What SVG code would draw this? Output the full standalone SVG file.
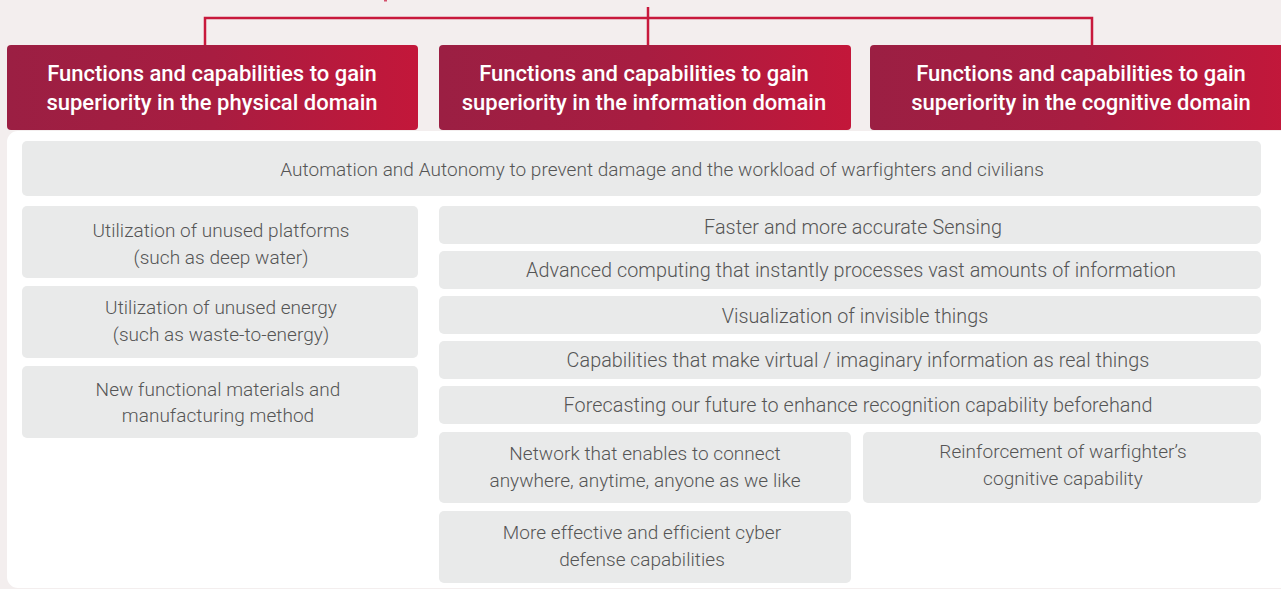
<svg xmlns="http://www.w3.org/2000/svg" width="1281" height="589" viewBox="0 0 1281 589">
<defs>
<linearGradient id="hg" x1="0" y1="0" x2="1" y2="0">
<stop offset="0" stop-color="#9b1f43"/>
<stop offset="0.5" stop-color="#a81d41"/>
<stop offset="1" stop-color="#c3173a"/>
</linearGradient>
<style>
.hdr{fill:url(#hg)}
.ht{font-family:Roboto,"Liberation Sans",sans-serif;font-weight:500;font-size:22px;fill:#ffffff;text-anchor:middle}
.box{fill:#e9eaea}
.bt{font-family:Roboto,"Liberation Sans",sans-serif;font-weight:300;font-size:19px;letter-spacing:0.05px;fill:#555555;text-anchor:middle}
.bt2{font-size:19.8px}
.con{stroke:#c8193c;stroke-width:2.5;fill:none}
</style>
</defs>
<rect x="0" y="0" width="1281" height="589" fill="#f3eeee"/>
<rect x="384" y="0" width="3" height="1.5" fill="#d4506c"/>
<g id="connectors">
<path class="con" d="M648 7 V45"/>
<path class="con" d="M205 45 V18 H1092 V45"/>
</g>
<rect x="7" y="131" width="1290" height="457" rx="11" fill="#ffffff"/>
<g id="h1"><rect class="hdr" x="7" y="45" width="411" height="85" rx="4"/>
<text class="ht" x="212" y="81">Functions and capabilities to gain</text>
<text class="ht" x="212" y="110">superiority in the physical domain</text></g>
<g id="h2"><rect class="hdr" x="439" y="45" width="412" height="85" rx="4"/>
<text class="ht" x="644" y="81">Functions and capabilities to gain</text>
<text class="ht" x="644" y="110">superiority in the information domain</text></g>
<g id="h3"><rect class="hdr" x="870" y="45" width="422" height="85" rx="4"/>
<text class="ht" x="1081" y="81">Functions and capabilities to gain</text>
<text class="ht" x="1081" y="110">superiority in the cognitive domain</text></g>
<g id="automation"><rect class="box" x="22" y="141" width="1239" height="55" rx="5"/>
<text class="bt" x="662" y="176">Automation and Autonomy to prevent damage and the workload of warfighters and civilians</text></g>
<g id="platforms"><rect class="box" x="22" y="206" width="396" height="72" rx="5"/>
<text class="bt" x="221" y="237">Utilization of unused platforms</text>
<text class="bt" x="221" y="264">(such as deep water)</text></g>
<g id="energy"><rect class="box" x="22" y="286" width="396" height="72" rx="5"/>
<text class="bt" x="221" y="314">Utilization of unused energy</text>
<text class="bt" x="221" y="341">(such as waste-to-energy)</text></g>
<g id="materials"><rect class="box" x="22" y="366" width="396" height="72" rx="5"/>
<text class="bt" x="218" y="396">New functional materials and</text>
<text class="bt" x="218" y="422">manufacturing method</text></g>
<g id="sensing"><rect class="box" x="439" y="206" width="822" height="38" rx="5"/>
<text class="bt bt2" x="853" y="234">Faster and more accurate Sensing</text></g>
<g id="computing"><rect class="box" x="439" y="251" width="822" height="38" rx="5"/>
<text class="bt bt2" x="851" y="277">Advanced computing that instantly processes vast amounts of information</text></g>
<g id="visualization"><rect class="box" x="439" y="296" width="822" height="38" rx="5"/>
<text class="bt bt2" x="855" y="323">Visualization of invisible things</text></g>
<g id="virtual"><rect class="box" x="439" y="341" width="822" height="38" rx="5"/>
<text class="bt bt2" x="858" y="367">Capabilities that make virtual / imaginary information as real things</text></g>
<g id="forecasting"><rect class="box" x="439" y="386" width="822" height="38" rx="5"/>
<text class="bt bt2" x="858" y="412">Forecasting our future to enhance recognition capability beforehand</text></g>
<g id="network"><rect class="box" x="439" y="432" width="412" height="71" rx="5"/>
<text class="bt" x="645" y="460">Network that enables to connect</text>
<text class="bt" x="645" y="487">anywhere, anytime, anyone as we like</text></g>
<g id="reinforcement"><rect class="box" x="863" y="432" width="398" height="71" rx="5"/>
<text class="bt" x="1063" y="458">Reinforcement of warfighter’s</text>
<text class="bt" x="1063" y="485">cognitive capability</text></g>
<g id="cyber"><rect class="box" x="439" y="511" width="412" height="72" rx="5"/>
<text class="bt" x="642" y="539">More effective and efficient cyber</text>
<text class="bt" x="642" y="566">defense capabilities</text></g>
</svg>
